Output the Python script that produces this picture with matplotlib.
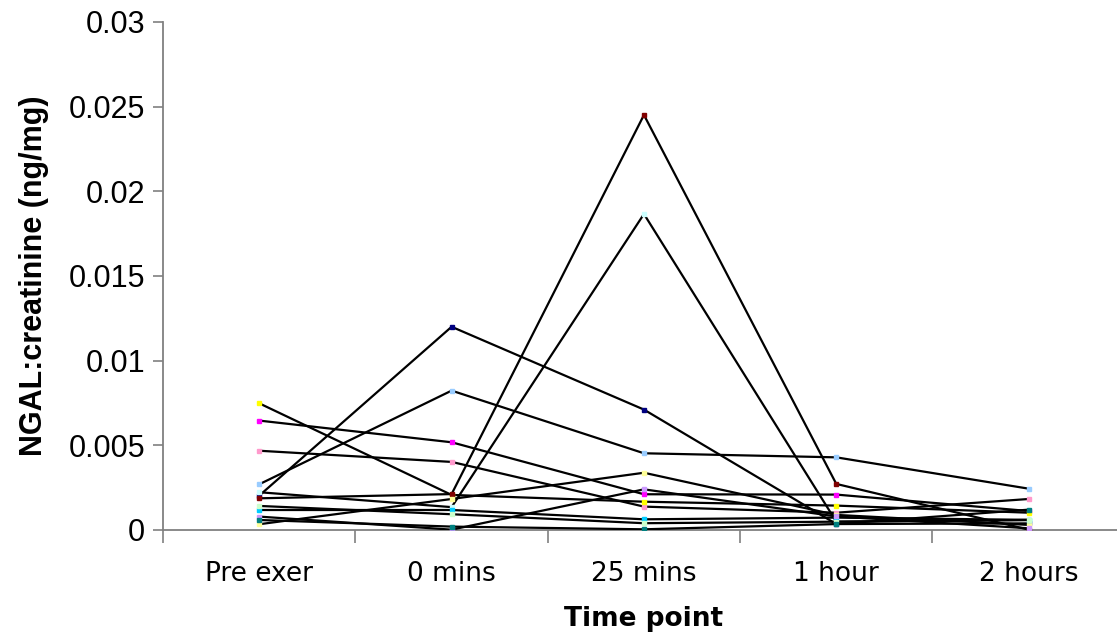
import matplotlib
matplotlib.use('Agg')
import matplotlib.pyplot as plt
from matplotlib.ticker import FixedLocator, FuncFormatter

# time points
time_points = ['Pre exer', '0 mins', '25 mins', '1 hour', '2 hours']

# NGAL:creatinine (ng/mg) per participant
navy = [0.00203, 0.0120, 0.00711, 0.00035, 0.00039]
pale_blue = [0.00270, 0.00823, 0.00453, 0.00429, 0.00244]
magenta = [0.00646, 0.00518, 0.00211, 0.00209, 0.00112]
rose = [0.00468, 0.00402, 0.00138, 0.00102, 0.00183]
yellow = [0.00748, 0.00207, 0.00167, 0.00144, 0.00102]
dark_red = [0.00187, 0.00212, 0.02451, 0.00272, 0.00002]
turquoise = [0.00223, 0.00135, 0.01866, 0.00049, 0.00059]
light_yellow = [0.00034, 0.00183, 0.00338, 0.00089, 0.00030]
sky_blue = [0.00118, 0.00118, 0.00063, 0.00073, 0.00060]
light_green = [0.00142, 0.00093, 0.00040, 0.00049, 0.00059]
lavender = [0.00079, 0.00002, 0.00240, 0.00080, 0.00010]
teal = [0.00059, 0.00020, 0.00004, 0.00035, 0.00120]

series = [navy, pale_blue, magenta, rose, yellow, dark_red, turquoise,
          light_yellow, sky_blue, light_green, lavender, teal]
marker_colors = ['#000080', '#99CCFF', '#FF00FF', '#FF99CC', '#FFFF00', '#800000',
                 '#CCFFFF', '#FFFF99', '#00CCFF', '#CCFFCC', '#CC99FF', '#008080']

fig = plt.figure(figsize=(11.17, 6.37), dpi=100)
ax = fig.add_axes([0.146, 0.168, 0.861, 0.7975])

x = list(range(len(time_points)))
for vals, mc in zip(series, marker_colors):
    ax.plot(x, vals, '-', color='black', lw=1.6, marker='s', ms=3.5,
            mfc=mc, mec=mc, zorder=3)

ax.set_xlim(-0.5, 4.5)
ax.set_ylim(0, 0.03)

ax.yaxis.set_major_locator(FixedLocator([0, 0.005, 0.01, 0.015, 0.02, 0.025, 0.03]))
ax.yaxis.set_major_formatter(FuncFormatter(lambda v, p: ('%.3f' % v).rstrip('0').rstrip('.') if v else '0'))
ax.tick_params(axis='y', direction='out', length=7, width=1.2, color='#808080',
               labelsize=22, pad=6)
for lab in ax.get_yticklabels():
    lab.set_family('Liberation Sans')

ax.xaxis.set_major_locator(FixedLocator(x))
ax.set_xticklabels(time_points, fontsize=19, family='DejaVu Sans')
ax.xaxis.set_minor_locator(FixedLocator([i - 0.5 for i in range(len(time_points) + 1)]))
ax.tick_params(axis='x', which='major', length=0, pad=22)
ax.tick_params(axis='x', which='minor', direction='out', length=9, width=1.2, color='#808080')

for side in ['top', 'right']:
    ax.spines[side].set_visible(False)
for side in ['left', 'bottom']:
    ax.spines[side].set_color('#808080')
    ax.spines[side].set_linewidth(1.3)

ax.set_xlabel('Time point', fontsize=19, fontweight='bold', family='DejaVu Sans', labelpad=14)
ax.set_ylabel('NGAL:creatinine (ng/mg)', fontsize=22, fontweight='bold',
              family='Liberation Sans', labelpad=14)

plt.savefig('out.png', dpi=100)
